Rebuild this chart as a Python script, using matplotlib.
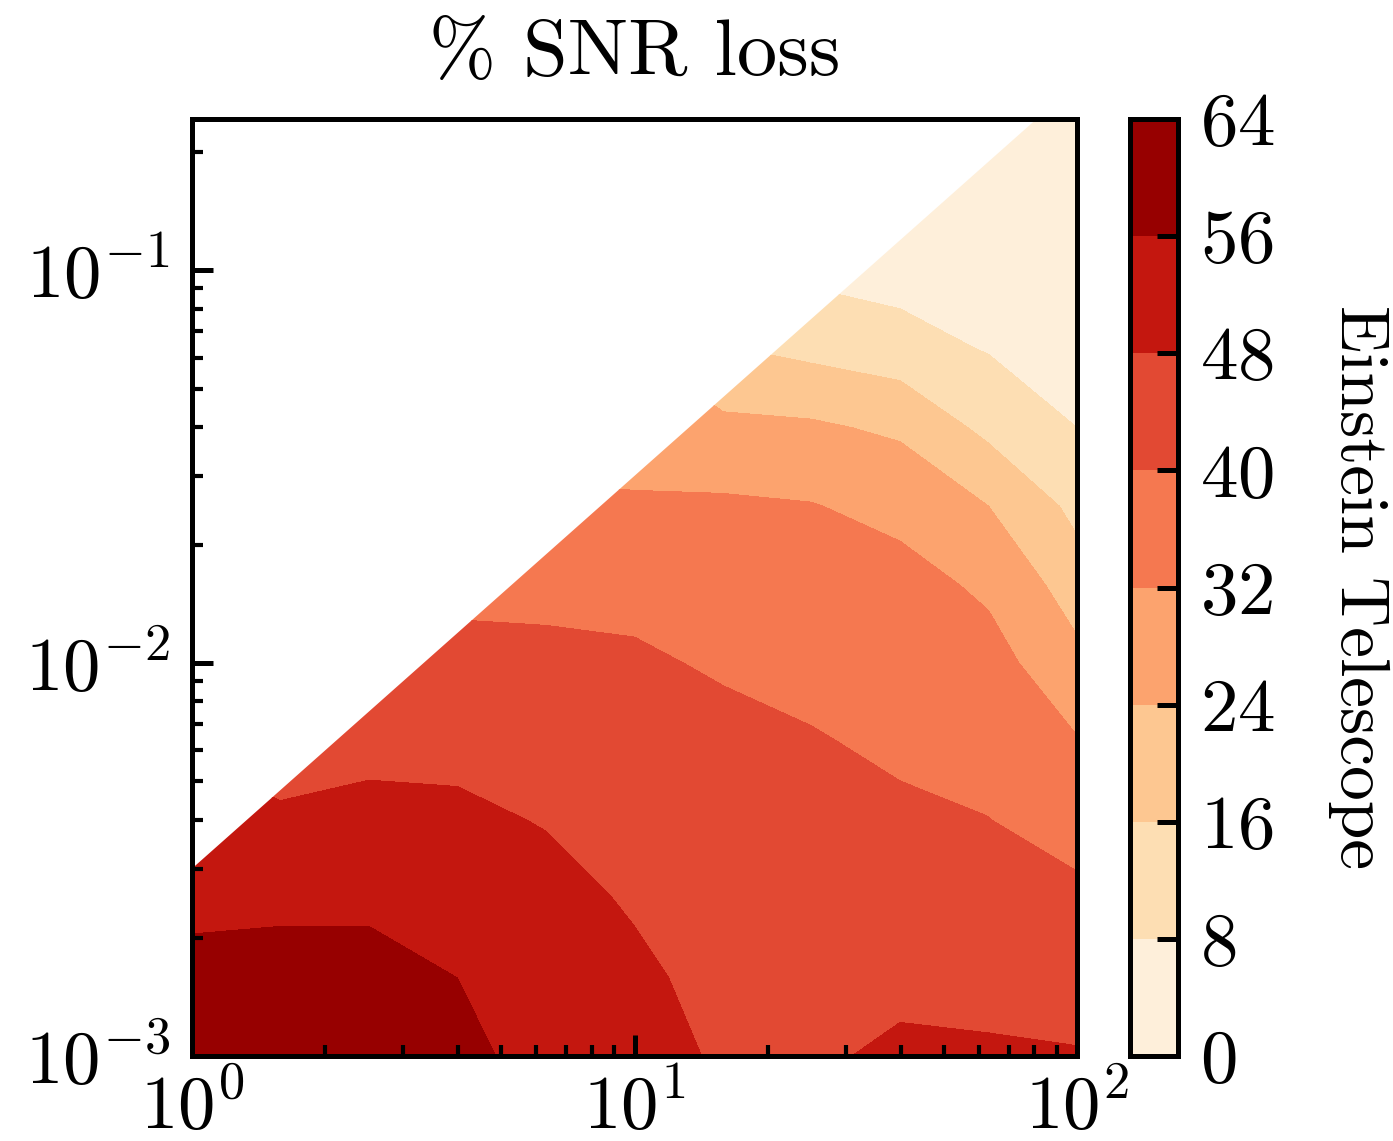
import matplotlib
matplotlib.use("Agg")
import matplotlib.pyplot as plt
import numpy as np
from matplotlib.patches import Polygon

plt.rcParams["font.family"] = "cmr10"
plt.rcParams["mathtext.fontset"] = "cm"
plt.rcParams["axes.formatter.use_mathtext"] = True
plt.rcParams["axes.unicode_minus"] = False

# grid nodes (x: horizontal, y: vertical)
x_nodes = [1.0, 1.585, 2.512, 3.981, 6.31, 10.0, 15.85, 25.12, 39.81, 63.1, 100.0]
y_nodes = [0.001, 0.00158, 0.00251, 0.00398, 0.00631, 0.01, 0.0158,
           0.0251, 0.0398, 0.0631, 0.1, 0.158, 0.251]

# % SNR loss, one list per x node (bottom -> top)
loss_x1 = [62, 59, 53, 50, 47, 44, 41, 38, 35, 32, 29, 26, 23]
loss_x2 = [63, 59, 54, 48.8, 45, 42, 39, 36, 33, 30, 27, 24, 21]
loss_x3 = [63, 59, 54, 50.5, 45, 42, 38.5, 35, 32, 29, 26, 23, 20]
loss_x4 = [57.5, 56, 52.5, 49.5, 45.5, 42, 38, 35, 32, 29, 26, 23, 20]
loss_x5 = [53.5, 52, 50.5, 47.5, 44.5, 41.5, 38, 33, 29, 26, 23, 20, 17]
loss_x6 = [51, 49.5, 47, 45, 43, 41, 37.5, 32.8, 28, 24, 18, 12, 8]
loss_x7 = [46.8, 45, 44, 43, 42, 39, 35.5, 33, 25.5, 16.5, 11, 7, 4]
loss_x8 = [47, 46, 44.5, 43, 40.5, 37.5, 35, 32.3, 25, 13.5, 6, 3, 2]
loss_x9 = [49.5, 45.5, 43, 41.2, 38.5, 36.5, 34.5, 29.5, 22.5, 10.5, 5, 2.5, 1]
loss_x10 = [49, 45, 42.5, 40.1, 37.5, 34.5, 30.5, 24, 13.5, 7.5, 4, 2, 1]
loss_x11 = [48.6, 43, 41.3, 37, 32.4, 26, 19.5, 13.5, 8, 5, 3, 1.5, 0.8]

levels = [0, 8, 16, 24, 32, 40, 48, 56, 64]
ratio_max = 0.003      # physical region: y <= ratio_max * x
y_top = 0.243

Z = np.array([loss_x1, loss_x2, loss_x3, loss_x4, loss_x5, loss_x6,
              loss_x7, loss_x8, loss_x9, loss_x10, loss_x11]).T
X, Y = np.meshgrid(x_nodes, y_nodes)

fig = plt.figure(figsize=(6.965, 5.705), dpi=200)
ax = fig.add_axes([0.1378, 0.0745, 0.6354, 0.8212])
cax = fig.add_axes([0.8112, 0.0745, 0.0345, 0.8212])

cs = ax.contourf(X, Y, Z, levels=levels, cmap="OrRd")

x0, x1 = x_nodes[0], x_nodes[-1]
y0 = y_nodes[0]
clip = Polygon([(x0, ratio_max * x0), (y_top / ratio_max, y_top), (x1, y_top),
                (x1, y0), (x0, y0)], closed=True, transform=ax.transData,
               facecolor="none", edgecolor="none")
ax.add_patch(clip)
cs.set_clip_path(clip)

ax.set_xscale("log")
ax.set_yscale("log")
ax.set_xlim(x0, x1)
ax.set_ylim(y0, y_top)

for sp in ax.spines.values():
    sp.set_linewidth(1.8)
ax.tick_params(which="major", direction="in", length=7.5, width=1.8,
               labelsize=27, pad=8)
ax.tick_params(which="minor", direction="in", length=4, width=1.5)
ax.tick_params(axis="x", pad=6)

ax.set_title("% SNR loss", fontsize=29, pad=16)

cbar = fig.colorbar(cs, cax=cax, ticks=levels)
cbar.outline.set_linewidth(1.8)
cax.tick_params(direction="in", length=7.5, width=1.8, labelsize=27, pad=8)
cbar.set_label("Einstein Telescope", rotation=270, fontsize=25, labelpad=41)

fig.savefig("out.png", dpi=200)
